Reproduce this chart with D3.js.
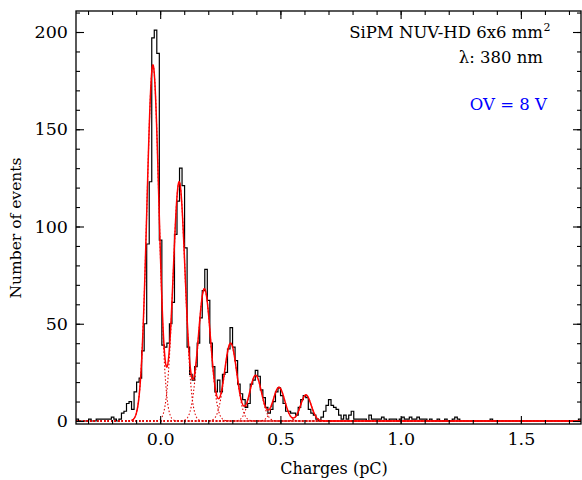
<!DOCTYPE html>
<html>
<head>
<meta charset="utf-8">
<script src="https://cdn.jsdelivr.net/npm/d3@7.9.0/dist/d3.min.js"></script>
<style>
  html, body { margin: 0; padding: 0; background: #fff; }
  svg text { font-family: "DejaVu Serif", serif; fill: #000; }
</style>
</head>
<body>
<svg id="chart" width="582" height="480"></svg>
<script>
// histogram: 200 bins from -0.35 pC, width 0.0105 pC
const binStart = -0.35;
const binWidth = 0.0105;
const counts = [
  1, 0, 0, 0, 0, 1, 0, 0, 1, 1,
  1, 1, 1, 1, 2, 1, 0, 1, 4, 5,
  9, 10, 6, 15, 20, 22, 36, 50, 91, 123,
  197, 201, 189, 93, 39, 38, 40, 50, 61, 96,
  113, 130, 121, 89, 38, 24, 21, 28, 40, 53,
  67, 78, 62, 40, 28, 15, 21, 15, 24, 25,
  37, 48, 38, 31, 19, 14, 11, 7, 9, 19,
  21, 26, 23, 16, 12, 7, 4, 6, 10, 15,
  17, 13, 9, 5, 5, 4, 4, 3, 7, 11,
  13, 12, 6, 4, 3, 1, 0, 2, 5, 8,
  11, 8, 7, 6, 3, 1, 3, 1, 3, 5,
  1, 1, 1, 1, 1, 0, 3, 1, 1, 1,
  1, 2, 1, 0, 1, 1, 1, 0, 1, 2,
  1, 1, 2, 1, 1, 2, 1, 1, 1, 0,
  1, 0, 0, 1, 0, 0, 1, 0, 0, 1,
  2, 1, 0, 0, 0, 0, 0, 0, 0, 0,
  0, 0, 0, 0, 1, 0, 0, 0, 0, 0,
  0, 0, 0, 0, 0, 0, 0, 0, 0, 0,
  0, 0, 0, 0, 0, 0, 0, 0, 0, 0,
  0, 0, 0, 0, 0, 0, 0, 0, 0, 1
];

// multi-gaussian fit
const peakMeans   = [-0.030, 0.079, 0.184, 0.293, 0.397, 0.494, 0.606];
const peakHeights = [183, 123, 68, 40, 23.5, 17.3, 13.4];
const peakSigmas  = [0.025, 0.025, 0.026, 0.026, 0.025, 0.024, 0.022];
const fitRange = [-0.12, 1.75];

const xMajor = [0, 0.5, 1.0, 1.5];
const xMinor = d3.range(-0.3, 1.75, 0.1);
const yMajor = [0, 50, 100, 150, 200];
const yMinor = d3.range(0, 211, 10);

const legendLines = ['SiPM NUV-HD 6x6 mm', 'λ: 380 nm'];
const ovLabel = 'OV = 8 V';

const W = 582, H = 480;
const margin = { top: 11, right: 1, bottom: 56, left: 76 };

const svg = d3.select('#chart');

const x = d3.scaleLinear()
  .domain([-0.35, 1.75])
  .range([margin.left, W - margin.right]);

const y = d3.scaleLinear()
  .domain([-1.55, 210.8])
  .range([H - margin.bottom, margin.top]);

svg.append('defs').append('clipPath').attr('id', 'clip')
  .append('rect')
    .attr('x', margin.left).attr('y', margin.top)
    .attr('width', W - margin.left - margin.right)
    .attr('height', H - margin.top - margin.bottom);

const plot = svg.append('g').attr('clip-path', 'url(#clip)');

// histogram as a step line
const steps = counts.map((c, i) => [binStart + i * binWidth, c]);
steps.push([binStart + counts.length * binWidth, counts[counts.length - 1]]);

const stepLine = d3.line()
  .x(d => x(d[0]))
  .y(d => y(d[1]))
  .curve(d3.curveStepAfter);

plot.append('path')
  .attr('d', stepLine(steps))
  .attr('fill', 'none')
  .attr('stroke', '#000')
  .attr('stroke-width', 1.2);

function gauss(v, i) {
  const z = (v - peakMeans[i]) / peakSigmas[i];
  return peakHeights[i] * Math.exp(-0.5 * z * z);
}

const curve = d3.line().x(d => x(d[0])).y(d => y(d[1]));
const xs = d3.range(-0.35, 1.7501, 0.001);

// single components, dotted
peakMeans.forEach((m, i) => {
  plot.append('path')
    .attr('d', curve(xs.map(v => [v, gauss(v, i)])))
    .attr('fill', 'none')
    .attr('stroke', '#dd0000')
    .attr('stroke-width', 1.1)
    .attr('stroke-dasharray', '1.5,2');
});

// total fit
const fitXs = xs.filter(v => v >= fitRange[0]);
plot.append('path')
  .attr('d', curve(fitXs.map(v => [v, d3.sum(peakMeans, (m, i) => gauss(v, i))])))
  .attr('fill', 'none')
  .attr('stroke', '#ff0000')
  .attr('stroke-width', 1.5);

// axes with inward ticks
const yBottom = H - margin.bottom, yTop = margin.top;
const xLeft = margin.left, xRight = W - margin.right;

function noDomain(g) { g.select('.domain').remove(); }

svg.append('g').attr('transform', `translate(0,${yBottom})`)
  .call(d3.axisBottom(x).tickValues(xMinor).tickSize(-4).tickFormat(''))
  .call(noDomain);
svg.append('g').attr('transform', `translate(0,${yBottom})`)
  .call(d3.axisBottom(x).tickValues(xMajor).tickSize(-8).tickPadding(9)
    .tickFormat(d3.format('.1f')))
  .call(noDomain)
  .call(g => g.selectAll('text').style('font-size', '17.5px').attr('fill', '#000'));

svg.append('g').attr('transform', `translate(0,${yTop})`)
  .call(d3.axisTop(x).tickValues(xMinor).tickSize(-4).tickFormat(''))
  .call(noDomain);
svg.append('g').attr('transform', `translate(0,${yTop})`)
  .call(d3.axisTop(x).tickValues(xMajor).tickSize(-8).tickFormat(''))
  .call(noDomain);

svg.append('g').attr('transform', `translate(${xLeft},0)`)
  .call(d3.axisLeft(y).tickValues(yMinor).tickSize(-4).tickFormat(''))
  .call(noDomain);
svg.append('g').attr('transform', `translate(${xLeft},0)`)
  .call(d3.axisLeft(y).tickValues(yMajor).tickSize(-8).tickPadding(8))
  .call(noDomain)
  .call(g => g.selectAll('text').style('font-size', '17.5px').attr('fill', '#000'));

svg.append('g').attr('transform', `translate(${xRight},0)`)
  .call(d3.axisRight(y).tickValues(yMinor).tickSize(-4).tickFormat(''))
  .call(noDomain);
svg.append('g').attr('transform', `translate(${xRight},0)`)
  .call(d3.axisRight(y).tickValues(yMajor).tickSize(-8).tickFormat(''))
  .call(noDomain);

svg.selectAll('.tick line').attr('stroke', '#000').attr('stroke-width', 1.1);

// frame
svg.append('rect')
  .attr('x', xLeft).attr('y', yTop)
  .attr('width', xRight - xLeft).attr('height', yBottom - yTop)
  .attr('fill', 'none')
  .attr('stroke', '#000')
  .attr('stroke-width', 1.3);

// axis titles
svg.append('text')
  .attr('x', 334).attr('y', 474)
  .attr('text-anchor', 'middle')
  .style('font-size', '16px')
  .text('Charges (pC)');

svg.append('text')
  .attr('transform', 'translate(21,228) rotate(-90)')
  .attr('text-anchor', 'middle')
  .style('font-size', '15.5px')
  .text('Number of events');

// legend
svg.append('text')
  .attr('x', 543).attr('y', 38)
  .attr('text-anchor', 'end')
  .style('font-size', '16.5px')
  .text(legendLines[0]);
svg.append('text')
  .attr('x', 543.5).attr('y', 31)
  .style('font-size', '11px')
  .text('2');
svg.append('text')
  .attr('x', 543).attr('y', 63)
  .attr('text-anchor', 'end')
  .style('font-size', '16.5px')
  .text(legendLines[1]);
svg.append('text')
  .attr('x', 547).attr('y', 110)
  .attr('text-anchor', 'end')
  .style('font-size', '16.5px')
  .style('fill', '#0000ff')
  .text(ovLabel);
</script>
</body>
</html>
